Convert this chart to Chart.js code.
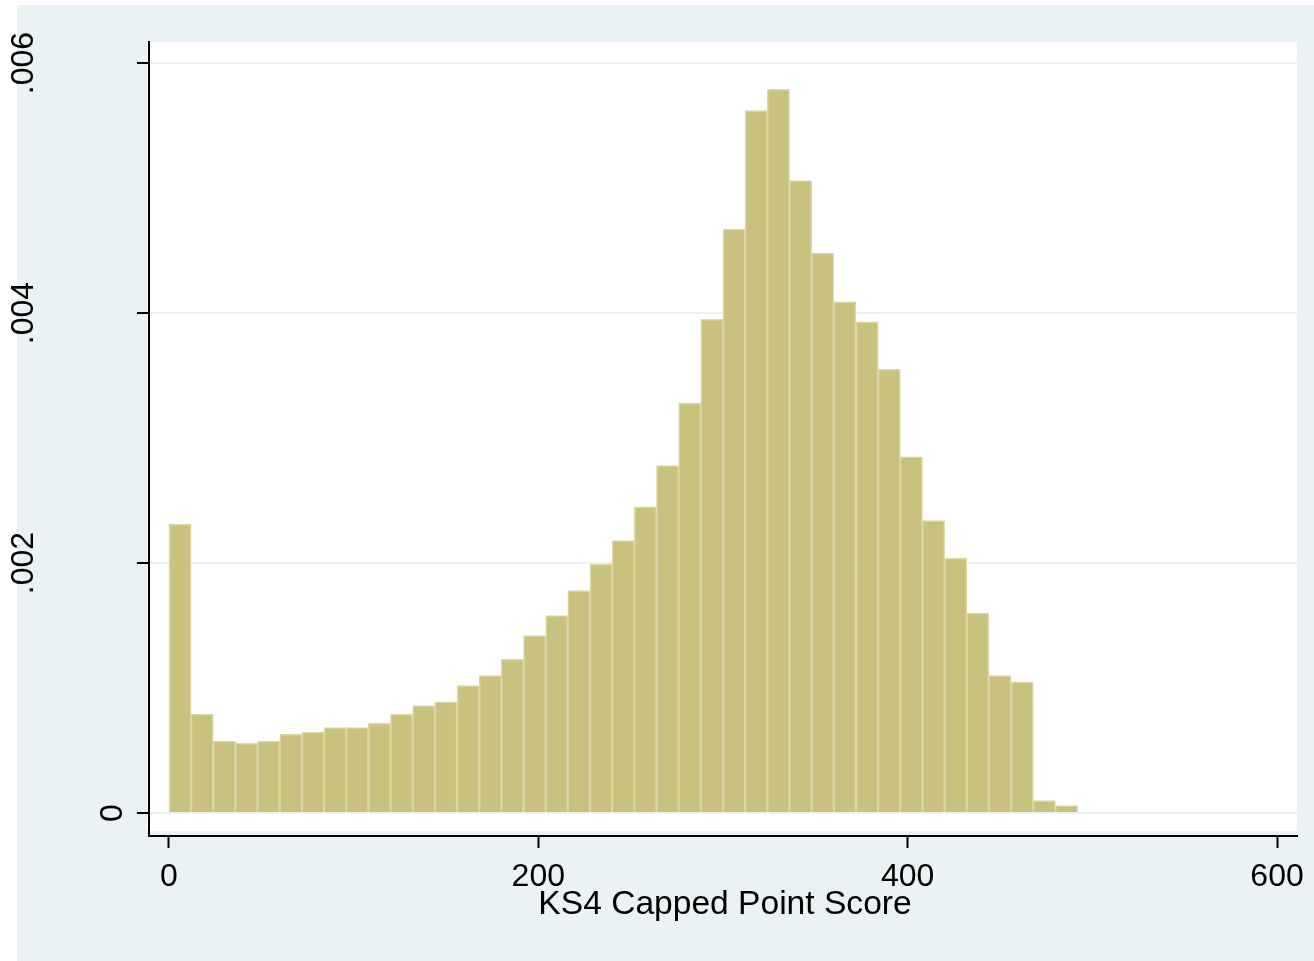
<!DOCTYPE html>
<html>
<head>
<meta charset="utf-8">
<script src="https://cdn.jsdelivr.net/npm/chart.js@4.4.0/dist/chart.umd.min.js"></script>
<style>
  html, body { margin: 0; padding: 0; background: #fff; }
  canvas { display: block; }
</style>
</head>
<body>
<canvas id="ks4Hist" width="1314" height="961"></canvas>
<script>
// histogram of KS4 capped point score, bins of 12 starting at 0
const binStart = 0;
const binWidth = 12;
const density = [
  0.00231, 0.00079, 0.000576, 0.000558, 0.000576, 0.00063, 0.000646, 0.000683, 0.000683, 0.000717,
  0.00079, 0.000859, 0.00089, 0.00102, 0.0011, 0.00123, 0.00142, 0.00158, 0.00178, 0.00199,
  0.00218, 0.00245, 0.00278, 0.00328, 0.00395, 0.00467, 0.00562, 0.00579, 0.00506, 0.00448,
  0.00409, 0.00393, 0.00355, 0.00285, 0.00234, 0.00204, 0.0016, 0.0011, 0.00105, 0.0001,
  0.00006
];
const xTicks = [0, 200, 400, 600];
const xTickLabels = ['0', '200', '400', '600'];
const yTicks = [0, 0.002, 0.004, 0.006];
const yTickLabels = ['0', '.002', '.004', '.006'];
const xTitle = 'KS4 Capped Point Score';

const outerBg = '#eaf2f3';
const font = '"Liberation Sans", Arial, sans-serif';

const points = density.map((d, i) => ({ x: binStart + binWidth * (i + 0.5), y: d }));

const background = {
  id: 'background',
  beforeDraw(chart) {
    const { ctx, chartArea: a } = chart;
    ctx.save();
    ctx.fillStyle = '#fff';
    ctx.fillRect(0, 0, chart.width, chart.height);
    ctx.fillStyle = outerBg;
    ctx.fillRect(17, 5, chart.width - 17, chart.height - 5);
    ctx.fillStyle = '#fff';
    ctx.fillRect(a.left - 2, a.top, a.right - a.left + 2, a.bottom - 5 - a.top);
    ctx.restore();
  }
};

const labels = {
  id: 'labels',
  afterDraw(chart) {
    const { ctx, chartArea: a } = chart;
    const xs = chart.scales.x;
    const ys = chart.scales.y;
    ctx.save();
    ctx.fillStyle = '#000';
    ctx.font = '32px ' + font;
    ctx.textAlign = 'center';
    ctx.textBaseline = 'alphabetic';
    xTicks.forEach((v, i) => {
      ctx.fillText(xTickLabels[i], xs.getPixelForValue(v), 886);
    });
    yTicks.forEach((v, i) => {
      const w = ctx.measureText(yTickLabels[i]).width;
      ctx.save();
      ctx.translate(a.left + 9 - 2 * w, ys.getPixelForValue(v));
      ctx.rotate(-Math.PI / 2);
      ctx.fillText(yTickLabels[i], 0, 0);
      ctx.restore();
    });
    ctx.font = '33.6px ' + font;
    ctx.fillText(xTitle, (a.left + a.right) / 2 + 2, 914);
    ctx.restore();
  }
};

new Chart(document.getElementById('ks4Hist'), {
  type: 'bar',
  data: {
    datasets: [{
      data: points,
      backgroundColor: '#c9c17e',
      borderColor: '#dbd6a3',
      borderWidth: 1.5,
      barPercentage: 1,
      categoryPercentage: 1
    }]
  },
  options: {
    responsive: false,
    animation: false,
    layout: { padding: { left: 0, top: 42, right: 17, bottom: 0 } },
    plugins: {
      legend: { display: false },
      tooltip: { enabled: false }
    },
    scales: {
      x: {
        type: 'linear',
        min: -10.8,
        max: 610.8,
        offset: false,
        afterBuildTicks: (s) => { s.ticks = xTicks.map(v => ({ value: v })); },
        afterFit: (s) => { s.height = 125; },
        ticks: { display: false },
        grid: {
          offset: false,
          drawOnChartArea: false,
          drawTicks: true,
          tickLength: 12,
          tickWidth: 2,
          tickColor: '#000'
        },
        border: { display: true, color: '#000', width: 2 }
      },
      y: {
        type: 'linear',
        min: -0.000184,
        max: 0.006168,
        afterBuildTicks: (s) => { s.ticks = yTicks.map(v => ({ value: v })); },
        afterFit: (s) => { s.width = 149; },
        ticks: { display: false },
        grid: {
          color: outerBg,
          lineWidth: 2,
          drawTicks: true,
          tickLength: 12,
          tickWidth: 2,
          tickColor: '#000'
        },
        border: { display: true, color: '#000', width: 2 }
      }
    }
  },
  plugins: [background, labels]
});
</script>
</body>
</html>
